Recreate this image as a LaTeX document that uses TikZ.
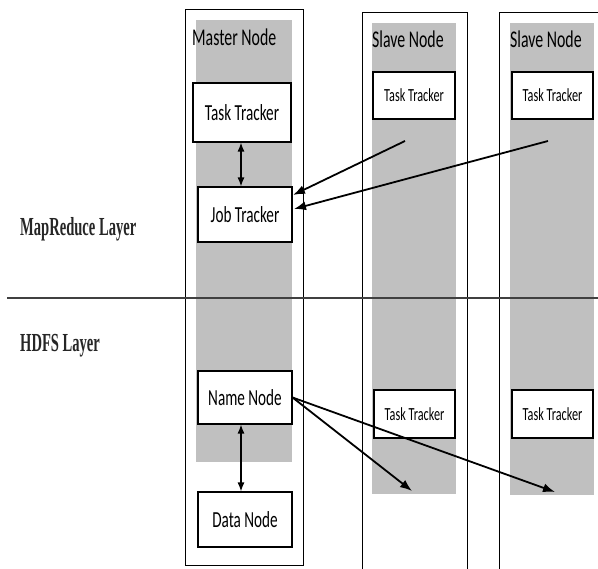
\documentclass[tikz,border=0pt]{standalone}
\usepackage{fontspec}
\usetikzlibrary{arrows.meta}
\newfontfamily\cf[FakeStretch=0.66]{Carlito}
\newfontfamily\tf[FakeStretch=0.56]{Liberation Serif}
\definecolor{colgray}{HTML}{C0C0C0}
\tikzset{
  box/.style={draw=black, line width=1.1pt, fill=white, inner sep=0pt},
  boxtext/.style={font=\cf\fontsize{23}{23}\selectfont},
  smalltext/.style={font=\cf\fontsize{18.5}{18.5}\selectfont},
  head/.style={font=\cf\fontsize{24}{24}\selectfont, anchor=base west, inner sep=0pt},
  layer/.style={font=\tf\bfseries\fontsize{26}{26}\selectfont, anchor=base west, inner sep=0pt, text=black!85},
  frame/.style={draw=black, line width=1pt},
  arr/.style={line width=1.8pt, -{Latex[length=12pt,width=9pt]}},
  darr/.style={line width=1.3pt, {Latex[length=9pt,width=7pt]}-{Latex[length=9pt,width=7pt]}},
}
\begin{document}
\begin{tikzpicture}[x=1pt,y=-1pt]
\useasboundingbox (0,0) rectangle (598,569);
% gray columns
\fill[colgray] (196,20) rectangle (292,462);
\fill[colgray] (372,23) rectangle (456,494);
\fill[colgray] (510,23) rectangle (594,495);
% frames
\draw[frame] (185,10) rectangle (303,566);
\draw[frame] (362,570) -- (362,13) -- (467,13) -- (467,570);
\draw[frame] (499,570) -- (499,13) -- (599,13);
% layer separator
\draw[line width=1.8pt, black!75] (7,298) -- (599,298);
% headings
\node[head] (mh) at (192,46) {Master Node};
\node[head] (s1h) at (372,48) {Slave Node};
\node[head] (s2h) at (510,48) {Slave Node};
\node[layer] (mr) at (20,236) {MapReduce Layer};
\node[layer] (hd) at (20,352) {HDFS Layer};
% master boxes
\node[box, boxtext, minimum width=98pt, minimum height=59pt] (mtt) at (242,112.5) {Task Tracker};
\node[box, boxtext, minimum width=94pt, minimum height=55pt] (jt) at (245,214.5) {Job Tracker};
\node[box, boxtext, minimum width=94pt, minimum height=53pt] (nn) at (245,397.5) {Name Node};
\node[box, boxtext, minimum width=94pt, minimum height=55pt] (dn) at (245,519.5) {Data Node};
% slave boxes
\node[box, smalltext, minimum width=82pt, minimum height=47pt] (s1t) at (414,95.5) {Task Tracker};
\node[box, smalltext, minimum width=81pt, minimum height=47pt] (s2t) at (552.5,95.5) {Task Tracker};
\node[box, smalltext, minimum width=81pt, minimum height=48pt] (s1b) at (414.5,414) {Task Tracker};
\node[box, smalltext, minimum width=81pt, minimum height=48pt] (s2b) at (552.5,414) {Task Tracker};
% connector ends
\coordinate (a1) at (405,141);
\coordinate (a2) at (548,141);
\coordinate (j1) at (293,195);
\coordinate (j2) at (294,209);
\coordinate (n1) at (412,491);
\coordinate (n2) at (555,492);
% connectors
\draw[darr] (mtt.south -| 241,0) -- (jt.north -| 241,0);
\draw[darr] (nn.south -| 241,0) -- (dn.north -| 241,0);
\draw[arr] (a1) -- (j1);
\draw[arr] (a2) -- (j2);
\draw[arr] (nn.east) -- (n1);
\draw[arr] (nn.east) -- (n2);
\end{tikzpicture}
\end{document}
